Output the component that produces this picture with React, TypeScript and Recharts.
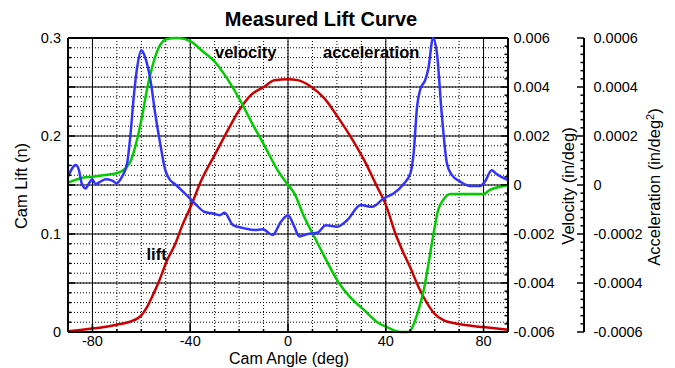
import { CartesianGrid, Line, LineChart, ReferenceLine, XAxis, YAxis } from "recharts";

const FONT = '"Liberation Sans", Arial, Helvetica, sans-serif';
const LIFT_COLOR = "#cc0000";
const VELOCITY_COLOR = "#00cc00";
const ACCEL_COLOR = "#3333ff";

// axis ids: the right-hand axes are stacked in id order, velocity next to the plot
const LIFT_AXIS = "lift";
const VELOCITY_AXIS = "r1";
const ACCEL_AXIS = "r2";

// cam lift (in) against cam angle (deg)
const liftAngle = [
  -90, -80, -70, -65, -60, -58, -55.6, -52.9, -49.5, -46.1, -43.7, -39.8, -35.4, -29.7, -24.6,
  -19.8, -15.1, -9.6, -5.6, 0, 3.9, 9.3, 14.8, 20.2, 25.6, 31.1, 36.5, 40, 44, 47, 49.9, 53.4,
  56.2, 60, 63.6, 70.4, 79.9, 90,
];
const liftValue = [
  0.0007, 0.0035, 0.0075, 0.0102, 0.017, 0.024, 0.036, 0.051, 0.073, 0.09, 0.106, 0.128, 0.155,
  0.182, 0.206, 0.227, 0.242, 0.2505, 0.257, 0.258, 0.257, 0.2505, 0.2386, 0.22, 0.1994, 0.1756,
  0.148, 0.13, 0.1, 0.082, 0.0665, 0.046, 0.0324, 0.0185, 0.012, 0.0079, 0.005, 0.0023,
];

// velocity (in/deg)
const velocityAngle = [
  -90, -84, -80, -74.6, -69.5, -66.5, -64.5, -62.4, -59.7, -57.7, -55.6, -52.9, -49.5, -46, -44.9,
  -39.8, -35.4, -29.7, -24.6, -19.8, -15.1, -9.6, -4.2, -1.5, 0, 2.6, 6.6, 10.7, 14.8, 20.2, 25.6,
  31.1, 36.5, 40.5, 46, 49.4, 51.5, 53.4, 55.5, 57.5, 59.5, 61.5, 63.6, 66.3, 70, 80, 82.6, 86.7,
  90,
];
const velocityValue = [
  0.0001, 0.0003, 0.00034, 0.00041, 0.0005, 0.00068, 0.00095, 0.0016, 0.0028, 0.0039, 0.0048,
  0.0056, 0.00596, 0.006, 0.006, 0.00586, 0.0055, 0.005, 0.0043, 0.0035, 0.0026, 0.0016, 0.0006,
  0.0002, 0, -0.00034, -0.0013, -0.0021, -0.0029, -0.0039, -0.0046, -0.0051, -0.0056, -0.0058,
  -0.006, -0.006, -0.00566, -0.0051, -0.0043, -0.0032, -0.002, -0.001, -0.0006, -0.00037,
  -0.00037, -0.00037, -0.0002, -0.00007, 0,
];

// acceleration (in/deg^2)
const accelAngle = [
  -90, -86.8, -85.5, -84.4, -82.8, -81.4, -80.1, -78.7, -76.7, -74.6, -71.9, -70.2, -67.9, -65.8,
  -64.5, -63.1, -61.7, -60, -58.4, -56.3, -54.3, -52.3, -50.2, -48.2, -46.3, -42.2, -38.1, -34.1,
  -30.7, -28, -25.9, -22.5, -17.8, -13.7, -10.3, -6.3, -2.9, 0, 2.6, 4.6, 8, 12, 15.5, 20.2, 24.3,
  29.7, 34.4, 39.2, 43.3, 47.3, 50.1, 51.4, 52.8, 54.1, 56.2, 57.5, 59.3, 60.9, 62.9, 65, 67, 70.4,
  74.5, 78.6, 80.6, 83.3, 85.3, 90,
];
const accelValue = [
  0.000034, 0.000082, 0.00006, 0.000007, -0.000014, 0.000007, 0.000023, 0.000004, 0.000014,
  0.000023, 0.000018, 0.000007, 0.000034, 0.000089, 0.0002, 0.00036, 0.00048, 0.00055, 0.00052,
  0.00043, 0.00029, 0.00017, 0.000061, 0.00002, 0.000004, -0.000034, -0.000075, -0.00011,
  -0.000116, -0.000123, -0.000113, -0.000164, -0.000177, -0.000184, -0.000181, -0.000204,
  -0.00015, -0.000123, -0.00017, -0.00021, -0.0002, -0.000195, -0.000164, -0.00017, -0.000143,
  -0.000082, -0.000089, -0.000054, -0.000034, 0.000004, 0.000048, 0.00013, 0.00032, 0.00039,
  0.00043, 0.00048, 0.0006, 0.00054, 0.00029, 0.000089, 0.000041, 0.000014, -0.000004,
  -0.000004, 0.000014, 0.00006, 0.000045, 0.00002,
];

const angleLabels = [-80, -40, 0, 40, 80];
const liftLabels = [0, 0.1, 0.2, 0.3];
const velocityLabels = [-0.006, -0.004, -0.002, 0, 0.002, 0.004, 0.006];
const accelLabels = [-0.0006, -0.0004, -0.0002, 0, 0.0002, 0.0004, 0.0006];
const liftSolid = [0.05, 0.1, 0.15, 0.2, 0.25, 0.3];

const toPoints = (xs: number[], ys: number[]) => xs.map((x, i) => ({ x, y: ys[i] }));
const liftData = toPoints(liftAngle, liftValue);
const velocityData = toPoints(velocityAngle, velocityValue);
const accelData = toPoints(accelAngle, accelValue);

// evenly spaced tick positions (axis ticks only, not data)
function steps(from: number, to: number, count: number) {
  return Array.from({ length: count + 1 }, (_, i) => +(from + ((to - from) * i) / count).toPrecision(10));
}
const angleTicks = steps(-90, 90, 18);
const liftTicks = steps(0, 0.3, 30);
const velocityTicks = steps(-0.006, 0.006, 36);
const accelTicks = steps(-0.0006, 0.0006, 36);

const near = (a: number, b: number) => Math.abs(a - b) < 1e-9;
const findLabel = (labels: number[], v: number) => labels.find((l) => near(l, v));

const tickText = { fontFamily: FONT, fontSize: 14.5, fill: "#000" };

function AngleTick({ x, y, payload }: any) {
  const label = findLabel(angleLabels, payload.value);
  return (
    <g>
      <line x1={x} x2={x} y1={y} y2={y - (label !== undefined ? 8 : 3)} stroke="#000" strokeWidth={1.5} />
      {label !== undefined && (
        <text x={x} y={y + 14} textAnchor="middle" {...tickText}>
          {String(label)}
        </text>
      )}
    </g>
  );
}

function LiftTick({ x, y, payload }: any) {
  const v = payload.value;
  const major = liftSolid.some((s) => near(s, v)) || near(v, 0);
  const label = findLabel(liftLabels, v);
  return (
    <g>
      <line x1={x} x2={x + (major ? 7 : 3)} y1={y} y2={y} stroke="#000" strokeWidth={1.5} />
      {label !== undefined && (
        <text x={x - 7} y={y} dy="0.35em" textAnchor="end" {...tickText}>
          {String(label)}
        </text>
      )}
    </g>
  );
}

function RightTick({ x, y, payload, labels, gap }: any) {
  const label = findLabel(labels, payload.value);
  return (
    <g>
      <line x1={x} x2={x - (label !== undefined ? 7 : 3.5)} y1={y} y2={y} stroke="#000" strokeWidth={1.5} />
      {label !== undefined && (
        <text x={x + gap} y={y} dy="0.35em" textAnchor="start" {...tickText}>
          {String(label)}
        </text>
      )}
    </g>
  );
}

const axisLine = { stroke: "#000", strokeWidth: 2 };
const titleText = { fontFamily: FONT, fontSize: 16.5, fill: "#000" };
const seriesText = { fontFamily: FONT, fontSize: 16.5, fontWeight: 700, fill: "#000" };

export default function App() {
  return (
    <div style={{ position: "absolute", left: 0, top: 0, width: 675, height: 368, background: "#fff" }}>
      <LineChart width={675} height={368} margin={{ top: 38, right: 0, bottom: 0, left: 0 }}>
        <CartesianGrid yAxisId={LIFT_AXIS} stroke="#000" strokeDasharray="1 2" />
        <XAxis
          dataKey="x"
          type="number"
          domain={[-90, 90]}
          ticks={angleTicks}
          interval={0}
          height={36}
          tickSize={0}
          tickMargin={0}
          axisLine={axisLine}
          tickLine={false}
          tick={<AngleTick />}
        />
        <YAxis
          yAxisId={LIFT_AXIS}
          type="number"
          domain={[0, 0.3]}
          ticks={liftTicks}
          interval={0}
          width={68}
          tickSize={0}
          tickMargin={0}
          axisLine={axisLine}
          tickLine={false}
          tick={<LiftTick />}
        />
        <YAxis
          yAxisId={VELOCITY_AXIS}
          orientation="right"
          type="number"
          domain={[-0.006, 0.006]}
          ticks={velocityTicks}
          interval={0}
          width={76}
          tickSize={0}
          tickMargin={0}
          axisLine={axisLine}
          tickLine={false}
          tick={<RightTick labels={velocityLabels} gap={5.5} />}
        />
        <YAxis
          yAxisId={ACCEL_AXIS}
          orientation="right"
          type="number"
          domain={[-0.0006, 0.0006]}
          ticks={accelTicks}
          interval={0}
          width={91}
          tickSize={0}
          tickMargin={0}
          axisLine={axisLine}
          tickLine={false}
          tick={<RightTick labels={accelLabels} gap={9.5} />}
        />
        {liftSolid.map((v) => (
          <ReferenceLine key={`h${v}`} yAxisId={LIFT_AXIS} y={v} stroke="#000" strokeWidth={v === 0.3 ? 2 : 1} />
        ))}
        {angleLabels.map((v) => (
          <ReferenceLine key={`v${v}`} yAxisId={LIFT_AXIS} x={v} stroke="#000" strokeWidth={1} />
        ))}
        <Line
          yAxisId={LIFT_AXIS}
          data={liftData}
          dataKey="y"
          type="monotone"
          stroke={LIFT_COLOR}
          strokeWidth={2.5}
          dot={false}
          isAnimationActive={false}
        />
        <Line
          yAxisId={VELOCITY_AXIS}
          data={velocityData}
          dataKey="y"
          type="monotone"
          stroke={VELOCITY_COLOR}
          strokeWidth={2.5}
          dot={false}
          isAnimationActive={false}
        />
        <Line
          yAxisId={ACCEL_AXIS}
          data={accelData}
          dataKey="y"
          type="monotone"
          stroke={ACCEL_COLOR}
          strokeWidth={2.5}
          dot={false}
          isAnimationActive={false}
        />
      </LineChart>
      <svg width={675} height={368} style={{ position: "absolute", left: 0, top: 0, pointerEvents: "none" }}>
        <text x={321} y={26} textAnchor="middle" fontFamily={FONT} fontSize={20} fontWeight={700}>
          Measured Lift Curve
        </text>
        <text x={289} y={363.5} textAnchor="middle" {...titleText} fontSize={16}>
          Cam Angle (deg)
        </text>
        <text transform="translate(27,186) rotate(-90)" textAnchor="middle" {...titleText}>
          Cam Lift (n)
        </text>
        <text transform="translate(574,186) rotate(-90)" textAnchor="middle" {...titleText}>
          Velocity (in/deg)
        </text>
        <text transform="translate(660,187) rotate(-90)" textAnchor="middle" {...titleText}>
          Acceleration (in/deg
          <tspan dy={-6} fontSize={11}>
            2
          </tspan>
          <tspan dy={6}>)</tspan>
        </text>
        <text x={215} y={58} {...seriesText}>
          velocity
        </text>
        <text x={323} y={57.5} {...seriesText}>
          acceleration
        </text>
        <text x={146.5} y={260} {...seriesText}>
          lift
        </text>
      </svg>
    </div>
  );
}
